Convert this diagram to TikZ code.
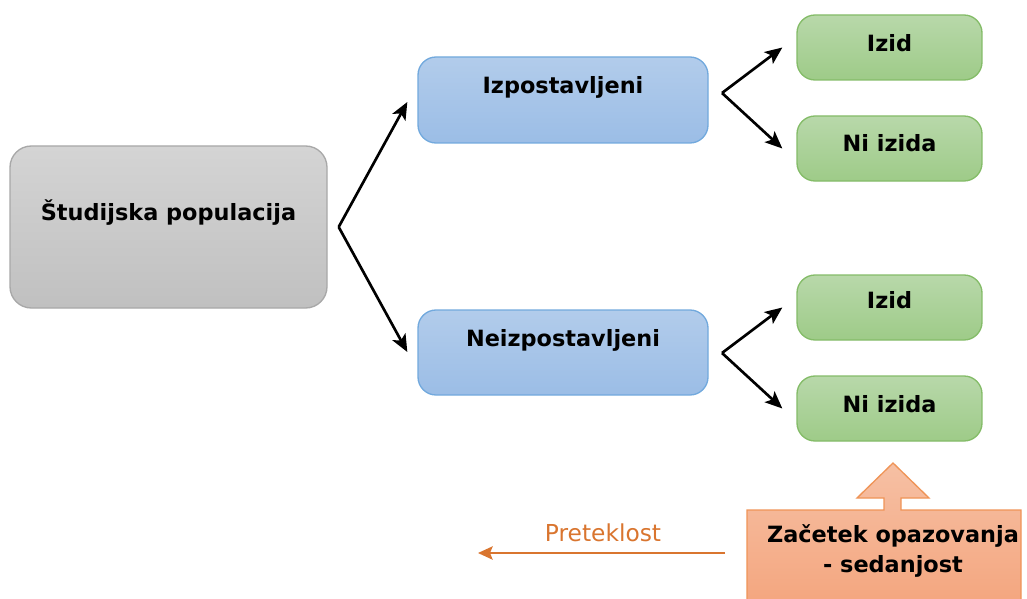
\documentclass[tikz,border=0pt]{standalone}
\usepackage{fontspec}
\setmainfont{DejaVu Sans}
\usetikzlibrary{arrows.meta}
\definecolor{grayTop}{HTML}{D4D4D4}
\definecolor{grayBot}{HTML}{C0C0C0}
\definecolor{grayLine}{HTML}{A8A8A8}
\definecolor{blueTop}{HTML}{B2CCEB}
\definecolor{blueBot}{HTML}{9BBDE6}
\definecolor{blueLine}{HTML}{72A9DD}
\definecolor{greenTop}{HTML}{B8D8AA}
\definecolor{greenBot}{HTML}{9ECB88}
\definecolor{greenLine}{HTML}{84BC68}
\definecolor{orangeTop}{HTML}{F6C0A4}
\definecolor{orangeBot}{HTML}{F4A67F}
\definecolor{orangeLine}{HTML}{EF9457}
\definecolor{orangeText}{HTML}{D9752F}
\begin{document}
\begin{tikzpicture}[x=0.75pt,y=-0.75pt,
  box/.style={rounded corners=13.5pt, line width=1pt, inner sep=0pt},
  graybox/.style={box, rounded corners=16pt, draw=grayLine, top color=grayTop, bottom color=grayBot},
  bluebox/.style={box, draw=blueLine, top color=blueTop, bottom color=blueBot},
  greenbox/.style={box, draw=greenLine, top color=greenTop, bottom color=greenBot},
  lbl/.style={font=\bfseries\fontsize{16.8}{20}\selectfont, inner sep=0pt},
  conn/.style={line width=2pt, -{Stealth[length=13pt,width=11pt,inset=3pt]}},
]
\useasboundingbox (0,0) rectangle (1027,599);

% population box
\node[graybox, minimum width=317*0.75pt, minimum height=162*0.75pt] (pop) at (168.5,227) {};
\node[lbl] (popT) at (168.5,213) {Študijska populacija};

% exposure groups
\node[bluebox, minimum width=290*0.75pt, minimum height=86*0.75pt] (exp) at (563,100) {};
\node[lbl] (expT) at (563,87) {Izpostavljeni};
\node[bluebox, minimum width=290*0.75pt, minimum height=85*0.75pt] (nexp) at (563,352.5) {};
\node[lbl] (nexpT) at (563,340) {Neizpostavljeni};

% outcomes
\node[greenbox, minimum width=185*0.75pt, minimum height=65*0.75pt] (o1) at (889.5,47.5) {};
\node[lbl] (o1T) at (889.5,43) {Izid};
\node[greenbox, minimum width=185*0.75pt, minimum height=65*0.75pt] (n1) at (889.5,148.5) {};
\node[lbl] (n1T) at (889.5,143) {Ni izida};
\node[greenbox, minimum width=185*0.75pt, minimum height=65*0.75pt] (o2) at (889.5,307.5) {};
\node[lbl] (o2T) at (889.5,300) {Izid};
\node[greenbox, minimum width=185*0.75pt, minimum height=65*0.75pt] (n2) at (889.5,408.5) {};
\node[lbl] (n2T) at (889.5,404) {Ni izida};

% branching arrows
\coordinate (v0) at ([xshift=11*0.75pt]pop.east);
\coordinate (e0a) at ([shift={(-10*0.75pt,-2*0.75pt)}]exp.west);
\coordinate (e0b) at ([shift={(-10*0.75pt,0.5*0.75pt)}]nexp.west);
\draw[conn] (v0) -- (e0a);
\draw[conn] (v0) -- (e0b);

\coordinate (v1) at (722,93);
\coordinate (e1a) at ([xshift=-14*0.75pt]o1.west);
\coordinate (e1b) at ([xshift=-14*0.75pt]n1.west);
\draw[conn] (v1) -- (e1a);
\draw[conn] (v1) -- (e1b);

\coordinate (v2) at (722,353);
\coordinate (e2a) at ([xshift=-14*0.75pt]o2.west);
\coordinate (e2b) at ([xshift=-14*0.75pt]n2.west);
\draw[conn] (v2) -- (e2a);
\draw[conn] (v2) -- (e2b);

% observation start: block arrow pointing up
\draw[line width=1pt, draw=orangeLine, top color=orangeTop, bottom color=orangeBot]
  (747,603) -- (747,510) -- (884,510) -- (884,498) -- (857,498) -- (893,463)
  -- (929,498) -- (901,498) -- (901,510) -- (1021,510) -- (1021,603);
\node[lbl, align=center, font=\bfseries\fontsize{16.8}{22.5}\selectfont] (now) at (893,551) {Začetek opazovanja\\- sedanjost};

% timeline towards the past
\coordinate (tl0) at (725,553);
\coordinate (tl1) at (478,553);
\draw[line width=1.4pt, draw=orangeText, -{Stealth[length=11pt,width=10pt,inset=2pt]}] (tl0) -- (tl1);
\node[inner sep=0pt, text=orangeText, font=\fontsize{17.5}{20}\selectfont] (past) at (603,533) {Preteklost};
\end{tikzpicture}
\end{document}
